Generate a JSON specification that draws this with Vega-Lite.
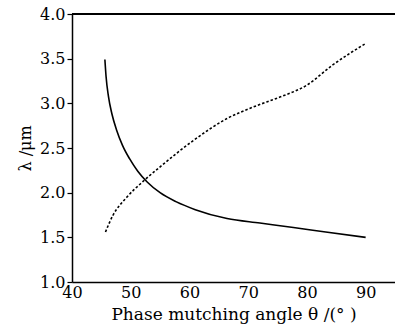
{
  "$schema": "https://vega.github.io/schema/vega-lite/v6.json",
  "width": 323,
  "height": 268,
  "autosize": {"type": "none"},
  "padding": {"left": 72, "top": 14, "right": 0, "bottom": 54},
  "background": "white",
  "config": {"view": {"stroke": null}, "font": "DejaVu Serif",
    "axis": {"labelFont": "DejaVu Serif", "titleFont": "DejaVu Serif"}},
  "data": {"values": [
    {"theta": 45.6, "lam": 3.49, "s": "a"},
    {"theta": 45.8, "lam": 3.3, "s": "a"},
    {"theta": 46.2, "lam": 3.08, "s": "a"},
    {"theta": 46.8, "lam": 2.88, "s": "a"},
    {"theta": 47.6, "lam": 2.7, "s": "a"},
    {"theta": 48.6, "lam": 2.53, "s": "a"},
    {"theta": 49.8, "lam": 2.38, "s": "a"},
    {"theta": 51.2, "lam": 2.24, "s": "a"},
    {"theta": 52.8, "lam": 2.12, "s": "a"},
    {"theta": 55.0, "lam": 2.0, "s": "a"},
    {"theta": 57.7, "lam": 1.9, "s": "a"},
    {"theta": 61.0, "lam": 1.81, "s": "a"},
    {"theta": 66.4, "lam": 1.71, "s": "a"},
    {"theta": 72.0, "lam": 1.66, "s": "a"},
    {"theta": 77.7, "lam": 1.61, "s": "a"},
    {"theta": 83.2, "lam": 1.56, "s": "a"},
    {"theta": 90.0, "lam": 1.5, "s": "a"},
    {"theta": 45.7, "lam": 1.56, "s": "b"},
    {"theta": 47.0, "lam": 1.75, "s": "b"},
    {"theta": 49.2, "lam": 1.94, "s": "b"},
    {"theta": 52.0, "lam": 2.12, "s": "b"},
    {"theta": 55.2, "lam": 2.3, "s": "b"},
    {"theta": 60.8, "lam": 2.59, "s": "b"},
    {"theta": 66.4, "lam": 2.83, "s": "b"},
    {"theta": 70.9, "lam": 2.96, "s": "b"},
    {"theta": 75.4, "lam": 3.07, "s": "b"},
    {"theta": 79.9, "lam": 3.2, "s": "b"},
    {"theta": 84.4, "lam": 3.43, "s": "b"},
    {"theta": 90.0, "lam": 3.67, "s": "b"}
  ]},
  "encoding": {
    "x": {"field": "theta", "type": "quantitative",
      "scale": {"domain": [40, 95], "nice": false, "zero": false},
      "axis": {"values": [40, 50, 60, 70, 80, 90],
        "title": "Phase mutching angle θ /(°   )",
        "grid": false, "domainColor": "black", "domainWidth": 1.5,
        "ticks": false,
        "labelFont": "DejaVu Serif", "labelFontSize": 16, "labelColor": "black",
        "labelPadding": 2, "labelFlush": false,
        "titleFont": "DejaVu Serif", "titleFontSize": 17, "titleFontWeight": "normal",
        "titleColor": "black", "titlePadding": 6}},
    "y": {"field": "lam", "type": "quantitative",
      "scale": {"domain": [1, 4], "nice": false, "zero": false},
      "axis": {"values": [1, 1.5, 2, 2.5, 3, 3.5, 4], "format": ".1f",
        "title": "λ /μm",
        "grid": false, "domainColor": "black", "domainWidth": 1.5,
        "tickColor": "black", "tickSize": 5, "tickWidth": 1.2,
        "labelFont": "DejaVu Serif", "labelFontSize": 16, "labelColor": "black",
        "labelPadding": 2, "labelFlush": false,
        "titleFont": "DejaVu Serif", "titleFontSize": 16, "titleFontWeight": "normal",
        "titleColor": "black", "titlePadding": 6}}
  },
  "layer": [
    {"mark": {"type": "line", "color": "black", "strokeWidth": 1.6, "interpolate": "monotone"},
     "transform": [{"filter": "datum.s === 'a'"}]},
    {"mark": {"type": "line", "color": "black", "strokeWidth": 1.6, "strokeDash": [2.5, 2], "interpolate": "monotone"},
     "transform": [{"filter": "datum.s === 'b'"}]},
    {"mark": {"type": "rule", "color": "black", "strokeWidth": 1.5},
     "encoding": {"x": {"datum": 40}, "x2": {"datum": 95}, "y": {"datum": 4}}},
    {"mark": {"type": "tick", "color": "black", "orient": "vertical", "size": 5, "thickness": 1.2, "yOffset": 2.5},
     "data": {"values": [{"t": 45}, {"t": 50}, {"t": 55}, {"t": 60}, {"t": 65}, {"t": 70}, {"t": 75}, {"t": 80}, {"t": 85}, {"t": 90}]},
     "encoding": {"x": {"field": "t", "type": "quantitative"}, "y": {"datum": 4}}},
    {"mark": {"type": "tick", "color": "black", "orient": "vertical", "size": 5, "thickness": 1.2, "yOffset": -2.5},
     "data": {"values": [{"t": 45}, {"t": 50}, {"t": 55}, {"t": 60}, {"t": 65}, {"t": 70}, {"t": 75}, {"t": 80}, {"t": 85}, {"t": 90}]},
     "encoding": {"x": {"field": "t", "type": "quantitative"}, "y": {"datum": 1}}}
  ]
}
